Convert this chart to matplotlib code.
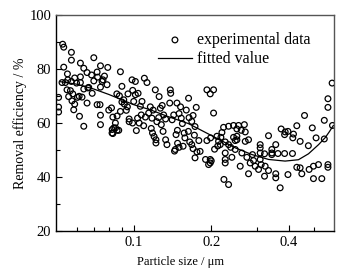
import matplotlib
matplotlib.use('Agg')
import matplotlib.pyplot as plt
from matplotlib.ticker import FixedLocator, NullFormatter, MultipleLocator

size_um = [
    # 0.050 - 0.060
    0.0511, 0.0511, 0.0511, 0.0530, 0.0535, 0.0535, 0.0527, 0.0543, 0.0551, 0.0553, 0.0559,
    0.0555, 0.0573, 0.0573, 0.0573, 0.0576, 0.0568, 0.0585, 0.0590, 0.0590, 0.0600, 0.0580,
    # 0.060 - 0.074
    0.0621, 0.0621, 0.0621, 0.0616, 0.0640, 0.0640, 0.0640, 0.0659, 0.0659, 0.0669, 0.0664,
    0.0700, 0.0700, 0.0690, 0.0721, 0.0724, 0.0721, 0.0743, 0.0743, 0.0743, 0.0743, 0.0630,
    0.0614, 0.0605, 0.0686, 0.0740,
    # 0.074 - 0.100
    0.0754, 0.0760, 0.0770, 0.0788, 0.0793, 0.0800, 0.0820, 0.0830, 0.0825, 0.0830, 0.0850,
    0.0862, 0.0862, 0.0875, 0.0888, 0.0880, 0.0860, 0.0888, 0.0900, 0.0915, 0.0936, 0.0950,
    0.0960, 0.0985, 0.0991, 0.0900, 0.0920, 0.0990, 0.0849, 0.0824, 0.0837, 0.0960, 0.0945,
    # 0.100 - 0.135
    0.1000, 0.1015, 0.1015, 0.1024, 0.1035, 0.1061, 0.1077, 0.1093, 0.1100, 0.1126, 0.1110,
    0.1143, 0.1177, 0.1183, 0.1200, 0.1213, 0.1220, 0.1220, 0.1255, 0.1269, 0.1280, 0.1300,
    0.1307, 0.1330, 0.1346, 0.1040, 0.1050, 0.1070, 0.1160, 0.1170, 0.1250, 0.1230, 0.1190,
    0.1290, 0.1330,
    # 0.135 - 0.181
    0.1387, 0.1392, 0.1380, 0.1410, 0.1430, 0.1460, 0.1478, 0.1530, 0.1545, 0.1450, 0.1440,
    0.1500, 0.1555, 0.1570, 0.1630, 0.1680, 0.1640, 0.1700, 0.1633, 0.1749, 0.1730, 0.1600,
    0.1472, 0.1520, 0.1500, 0.1700, 0.1760, 0.1790, 0.1810, 0.1720, 0.1650, 0.1580, 0.1480,
    0.1680, 0.1730,
    # 0.181 - 0.244
    0.1924, 0.1982, 0.2042, 0.2042, 0.1924, 0.1988, 0.2104, 0.2180, 0.2135, 0.2167, 0.2266,
    0.2335, 0.2233, 0.2335, 0.2441, 0.2441, 0.1982, 0.1982, 0.1953, 0.2266, 0.2266, 0.2266,
    0.2405, 0.2240, 0.2335, 0.2000, 0.2060, 0.2120, 0.1900, 0.2200, 0.2380,
    # 0.244 - 0.329
    0.2553, 0.2689, 0.2515, 0.2615, 0.2710, 0.2515, 0.2710, 0.2791, 0.2478, 0.2630, 0.2750,
    0.3097, 0.3097, 0.3097, 0.3337, 0.2892, 0.3220, 0.2918, 0.3097, 0.3125, 0.3238, 0.3052,
    0.2962, 0.2833, 0.2591, 0.2791, 0.3220, 0.2478, 0.2515,
    # 0.329 - 0.443
    0.3437, 0.3437, 0.3560, 0.3736, 0.3873, 0.3970, 0.3853, 0.4171, 0.4146, 0.4297, 0.4427,
    0.3630, 0.3853, 0.4134, 0.3437, 0.3560, 0.3560, 0.3970, 0.4297, 0.4427, 0.3703, 0.3337,
    # 0.443 - 0.600
    0.4494, 0.4604, 0.4765, 0.4797, 0.4935, 0.4987, 0.4987, 0.5105, 0.5215, 0.5373, 0.5494,
    0.5494, 0.5676, 0.5676, 0.5676, 0.5676, 0.5892, 0.5911,
]
efficiency = [
    69.5, 65.9, 64.1, 89.2, 88.1, 80.7, 75.0, 75.0, 72.3, 78.2, 69.8,
    76.0, 75.4, 86.2, 83.3, 68.2, 72.0, 64.9, 67.0, 76.7, 74.8, 70.8,
    82.2, 77.1, 75.0, 62.5, 58.8, 80.3, 72.6, 78.7, 67.4, 73.2, 73.0,
    84.2, 75.6, 71.0, 78.9, 77.0, 66.8, 81.2, 73.3, 62.9, 59.4, 69.6,
    69.9, 69.5, 77.8, 66.8,
    75.4, 76.0, 77.4, 74.2, 80.6, 64.8, 65.6, 62.2, 57.6, 56.1, 58.2,
    62.6, 57.3, 57.3, 79.0, 70.1, 70.8, 64.3, 67.8, 68.6, 64.7, 70.8,
    61.5, 76.0, 72.1, 73.6, 67.0, 60.0, 60.0, 56.3, 58.2, 60.5, 66.0,
    68.0, 75.4, 70.5, 57.2, 61.8, 66.2, 68.0, 59.0, 76.6, 75.0, 62.2,
    63.7, 61.8, 56.3, 55.0, 72.3, 53.8, 52.6, 69.8, 65.5, 59.4, 56.9,
    63.0, 53.8, 52.0, 71.0, 60.0, 63.0, 66.0, 58.0, 62.0, 60.5, 64.8,
    66.5, 61.5,
    72.3, 71.0, 67.4, 61.2, 63.0, 55.7, 57.3, 61.8, 59.8, 50.2, 49.6,
    51.0, 51.4, 56.3, 56.9, 60.6, 62.0, 62.8, 69.2, 65.8, 58.7, 64.8,
    67.4, 66.0, 63.5, 50.5, 49.3, 53.5, 49.5, 55.5, 53.0, 54.5, 52.5,
    52.0, 47.1,
    72.3, 70.8, 72.3, 63.7, 53.5, 54.5, 55.1, 54.7, 53.2, 52.0, 53.0,
    52.0, 58.4, 58.8, 59.1, 54.7, 46.5, 45.2, 44.6, 48.9, 46.5, 45.2,
    47.3, 39.1, 37.2, 46.0, 50.3, 51.5, 46.5, 56.5, 51.0,
    59.1, 59.4, 57.8, 57.3, 56.7, 53.8, 53.2, 53.8, 50.2, 48.9, 47.3,
    52.0, 50.8, 48.9, 55.3, 48.3, 48.6, 46.1, 46.5, 44.6, 44.0, 42.8,
    44.0, 45.2, 44.0, 41.2, 40.3, 53.5, 55.1,
    50.2, 48.9, 52.0, 57.8, 56.7, 56.9, 55.7, 55.9, 54.5, 59.0, 53.2,
    48.7, 48.7, 48.7, 48.3, 41.2, 39.7, 40.9, 43.6, 43.4, 36.0, 42.4,
    41.2, 62.8, 51.6, 42.8, 58.2, 44.0, 39.4, 54.5, 44.6, 39.4, 61.0,
    54.1, 69.0, 65.8, 44.6, 43.6, 74.8, 59.1,
]

# fitted curve
fit_size = [0.052, 0.060, 0.070, 0.080, 0.090, 0.100, 0.116, 0.135, 0.163, 0.200,
            0.248, 0.288, 0.334, 0.387, 0.436, 0.477, 0.522, 0.554, 0.575, 0.596]
fit_eff = [75.3, 74.4, 72.6, 70.6, 68.6, 66.8, 64.9, 62.5, 59.8, 55.4,
           50.8, 48.3, 46.5, 45.9, 46.4, 48.6, 52.0, 54.6, 56.8, 59.1]

x_major = [0.1, 0.2, 0.4]
x_minor = [0.06, 0.07, 0.08, 0.09, 0.3, 0.5]

plt.rcParams['font.family'] = ['Liberation Serif', 'DejaVu Serif']

fig = plt.figure(figsize=(3.51, 2.74), dpi=100)
ax = fig.add_axes([0.160, 0.157, 0.792, 0.788])

ax.scatter(size_um, efficiency, s=17, facecolors='none', edgecolors='black',
           linewidths=0.9, label='experimental data', zorder=3)
ax.plot(fit_size, fit_eff, color='black', linewidth=0.9, label='fitted value')

ax.set_xscale('log')
ax.set_xlim(0.05, 0.6)
ax.set_ylim(20, 100)
ax.xaxis.set_major_locator(FixedLocator(x_major))
ax.xaxis.set_minor_locator(FixedLocator(x_minor))
ax.set_xticklabels(['0.1', '0.2', '0.4'])
ax.xaxis.set_minor_formatter(NullFormatter())
ax.yaxis.set_major_locator(MultipleLocator(20))
ax.yaxis.set_minor_locator(MultipleLocator(10))

ax.tick_params(which='both', direction='in', top=False, right=False, labelsize=10.5, width=0.8)
ax.tick_params(which='major', length=4)
ax.tick_params(which='minor', length=3)
for side in ['left', 'bottom']:
    ax.spines[side].set_linewidth(1.0)
for side in ['top', 'right']:
    ax.spines[side].set_color('#555555')
    ax.spines[side].set_linewidth(1.0)

ax.set_xlabel('Particle size / \u03bcm', fontsize=9)
ax.xaxis.set_label_coords(0.446, -0.115)
ax.set_ylabel('Removal efficiency / %', fontsize=10, labelpad=2)

ax.legend(loc='upper left', bbox_to_anchor=(0.367, 0.921), frameon=False, fontsize=11.5,
          handlelength=2.1, handletextpad=0.3, labelspacing=0.2, borderpad=0,
          borderaxespad=0)

fig.savefig('out.png', dpi=100)
